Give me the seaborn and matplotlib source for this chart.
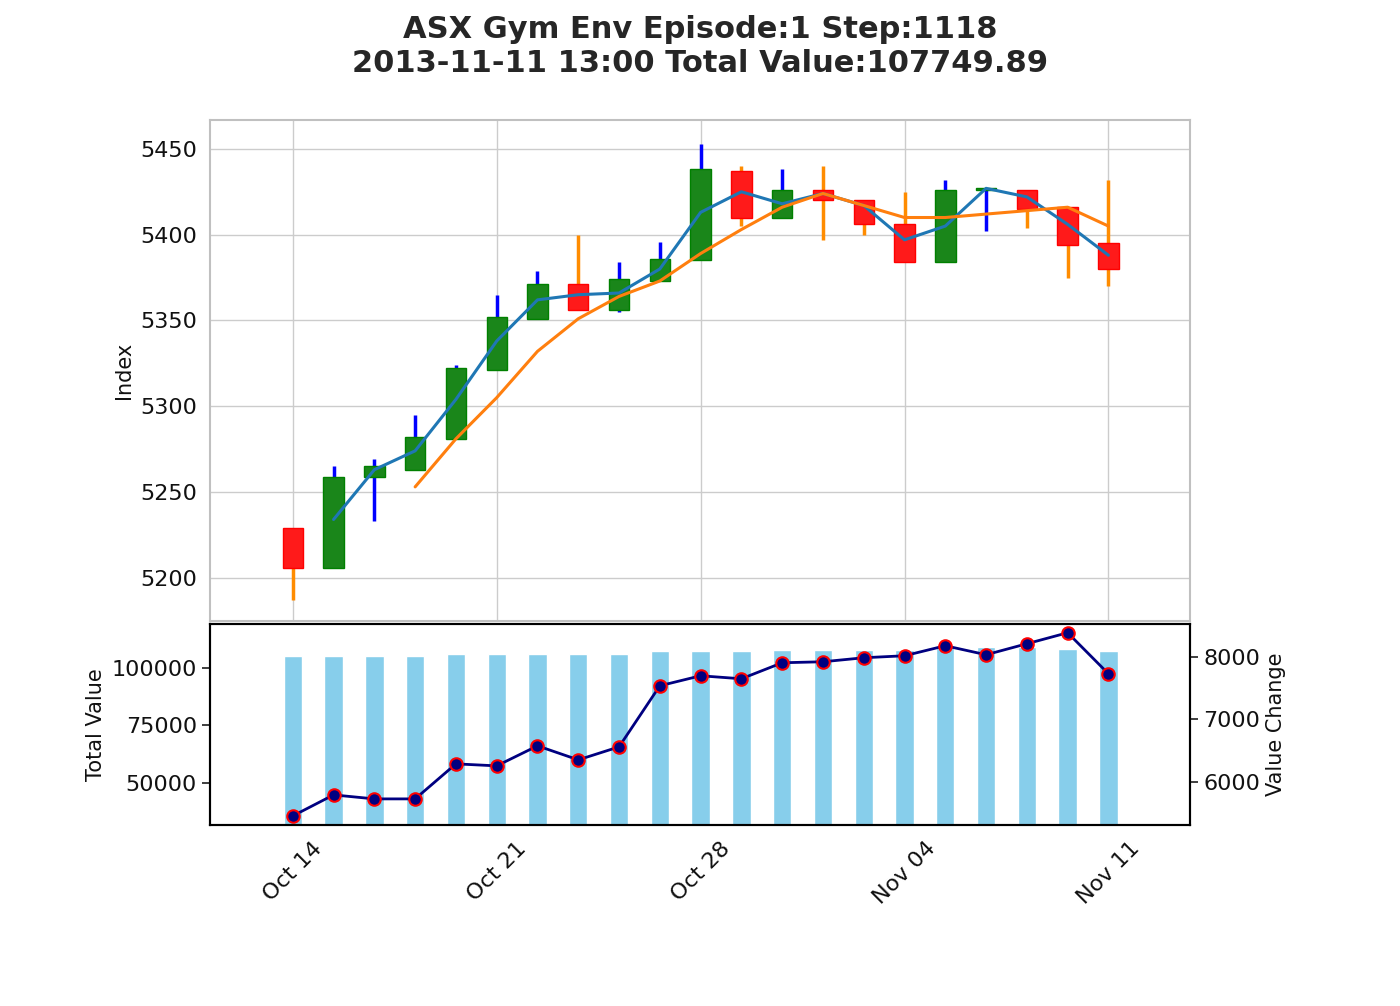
import numpy as np
import matplotlib.pyplot as plt
import seaborn as sns

dates = ['Oct 14', 'Oct 21', 'Oct 28', 'Nov 04', 'Nov 11']
opens = [5229, 5206, 5259, 5263, 5281, 5321, 5351, 5371, 5356, 5373, 5385,
         5437, 5410, 5426, 5420, 5406, 5384, 5426, 5426, 5416, 5395]
closes = [5206, 5259, 5265, 5282, 5322, 5352, 5371, 5356, 5374, 5386, 5438,
          5410, 5426, 5420, 5406, 5384, 5426, 5427, 5415, 5394, 5380]
highs = [5229, 5265, 5269, 5295, 5324, 5365, 5379, 5400, 5384, 5396, 5453,
         5440, 5438, 5440, 5420, 5425, 5432, 5427, 5426, 5416, 5432]
lows = [5187, 5206, 5233, 5263, 5281, 5321, 5351, 5356, 5355, 5373, 5385,
        5405, 5410, 5397, 5400, 5384, 5384, 5402, 5404, 5375, 5370]
ma_fast = [np.nan, 5234, 5263, 5274, 5304, 5338, 5362, 5365, 5366, 5380, 5413,
           5425, 5418, 5424, 5417, 5397, 5405, 5427, 5422, 5406, 5388]
ma_slow = [np.nan, np.nan, np.nan, 5253, 5281, 5305, 5332, 5351, 5364, 5373, 5389,
           5403, 5416, 5424, 5417, 5410, 5410, 5412, 5414, 5416, 5405]
total_value = [105200, 105200, 105200, 105200, 106100, 106100, 106100, 106100, 106100,
               107400, 107400, 107400, 107800, 107800, 107800, 107800, 108800,
               108800, 108800, 108300, 107400]
value_change = [5456, 5792, 5728, 5728, 6288, 6256, 6576, 6352, 6560, 7536, 7696,
                7648, 7904, 7920, 7984, 8016, 8176, 8032, 8208, 8384, 7728]

sns.set_theme(style='whitegrid')
plt.rcParams['font.family'] = ['DejaVu Sans']
fig = plt.figure(figsize=(14, 10.06), dpi=100)
ax = fig.add_axes([0.15, 0.383, 0.7, 0.498])
ax2 = fig.add_axes([0.15, 0.18, 0.7, 0.2])

x = np.arange(len(opens))
for i in x:
    up = closes[i] >= opens[i]
    wick = 'blue' if up else 'darkorange'
    body = '#1a861a' if up else '#ff1a1a'
    edge = 'green' if up else 'red'
    ax.vlines(i, lows[i], highs[i], color=wick, lw=2.5, zorder=2)
    ax.bar(i, abs(closes[i] - opens[i]), bottom=min(opens[i], closes[i]), width=0.5,
           color=body, edgecolor=edge, zorder=3)
sns.lineplot(x=x, y=ma_fast, ax=ax, color='tab:blue', lw=2.2, zorder=4)
sns.lineplot(x=x, y=ma_slow, ax=ax, color='tab:orange', lw=2.2, zorder=4)
ax.set_xlim(-2.03, 22.0)
ax.set_ylim(5175, 5467)
ax.set_xticks(range(0, 21, 5))
ax.set_xticklabels([])
ax.set_ylabel('Index', fontsize=15, color='#111111')
ax.tick_params(labelsize=16, labelcolor='#111111')
for s in ax.spines.values():
    s.set_color('#c0c0c0'); s.set_linewidth(1.5)

ax2.bar(x, total_value, width=0.45, color='skyblue', zorder=2)
ax2.set_ylim(31700, 119100)
ax2.set_xlim(-2.03, 22.0)
ax2.grid(False)
ax2.set_ylabel('Total Value', fontsize=15, color='#111111')
ax2.set_yticks([50000, 75000, 100000])
ax2.set_xticks(range(0, 21, 5))
ax2.set_xticklabels(dates, rotation=45)
ax2.tick_params(labelsize=16, labelcolor='#111111')
ax3 = ax2.twinx()
ax3.plot(x, value_change, color='navy', lw=2, marker='o', markersize=9,
         markerfacecolor='navy', markeredgecolor='red', markeredgewidth=1.5)
ax3.set_ylim(5312, 8528)
ax3.set_yticks([6000, 7000, 8000])
ax3.grid(False)
ax3.set_ylabel('Value Change', fontsize=15, color='#111111')
ax3.tick_params(labelsize=16, labelcolor='#111111')
for a in (ax2, ax3):
    for s in a.spines.values():
        s.set_color('black'); s.set_linewidth(1.5)

fig.suptitle('ASX Gym Env Episode:1 Step:1118\n2013-11-11 13:00 Total Value:107749.89',
             fontsize=22, fontweight='bold', y=0.985)
fig.savefig('out.png', dpi=100)
